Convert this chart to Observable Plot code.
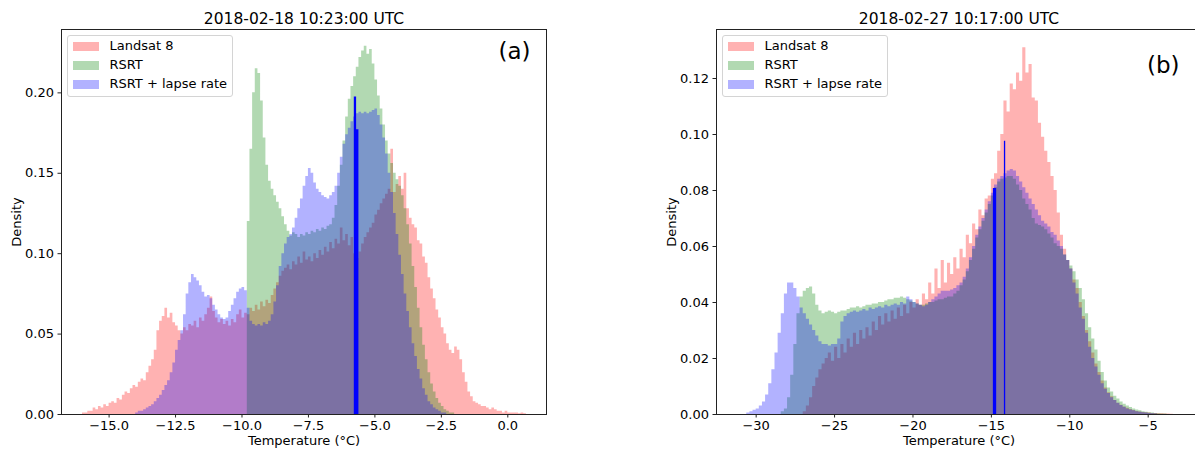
<!DOCTYPE html>
<html>
<head>
<meta charset="utf-8">
<script src="https://cdn.jsdelivr.net/npm/d3@7"></script>
<script src="https://cdn.jsdelivr.net/npm/@observablehq/plot@0.6"></script>
<style>
html, body { margin: 0; padding: 0; background: #fff; overflow: hidden; }
#root { position: relative; width: 1195px; height: 450px; overflow: hidden; font-family: "DejaVu Sans", sans-serif; }
.panel { position: absolute; top: 0; }
.legend { position: absolute; background: rgba(255,255,255,0.8); border: 1px solid #d4d4d4; border-radius: 3px; box-sizing: border-box; }
.sw { position: absolute; width: 25.6px; height: 8.6px; }
.lab { position: absolute; font-size: 13px; line-height: 16px; color: #000; white-space: nowrap; }
</style>
</head>
<body>
<div id="root"></div>
<script>
// ---------------- data ----------------
const seriesNames = ["Landsat 8", "RSRT", "RSRT + lapse rate"];
const seriesColors = ["rgba(255,0,0,0.3)", "rgba(0,128,0,0.3)", "rgba(0,0,255,0.3)"];
const baseColors = ["red", "green", "blue"];

const titleA = "2018-02-18 10:23:00 UTC";
const titleB = "2018-02-27 10:17:00 UTC";
const panelLabelA = "(a)";
const panelLabelB = "(b)";
const xLabel = "Temperature (°C)";
const yLabel = "Density";

// Panel (a): bin width 0.1 °C
const binWidthA = 0.1;
const landsatStartA = -16.0;
const landsatA = [
  0.001,0.001,0.002,0.002,0.004,0.003,0.005,0.004,0.006,0.005,
  0.007,0.008,0.007,0.010,0.009,0.012,0.014,0.013,0.016,0.018,
  0.017,0.020,0.022,0.021,0.026,0.030,0.034,0.040,0.052,0.058,
  0.061,0.066,0.060,0.063,0.057,0.055,0.052,0.050,0.054,0.052,
  0.056,0.055,0.058,0.054,0.060,0.058,0.062,0.066,0.073,0.064,
  0.060,0.057,0.059,0.056,0.058,0.055,0.059,0.057,0.062,0.065,
  0.060,0.063,0.062,0.066,0.064,0.068,0.065,0.070,0.067,0.071,
  0.069,0.074,0.078,0.082,0.086,0.089,0.091,0.093,0.090,0.095,
  0.093,0.098,0.094,0.101,0.096,0.098,0.095,0.100,0.097,0.102,
  0.099,0.104,0.101,0.107,0.103,0.109,0.106,0.116,0.108,0.112,
  0.105,0.110,0.100,0.097,0.101,0.106,0.110,0.113,0.116,0.119,
  0.124,0.127,0.131,0.134,0.137,0.140,0.165,0.138,0.143,0.148,
  0.140,0.150,0.128,0.122,0.118,0.116,0.108,0.106,0.098,0.094,
  0.085,0.078,0.072,0.065,0.060,0.054,0.050,0.044,0.040,0.038,
  0.042,0.040,0.034,0.026,0.020,0.014,0.011,0.008,0.007,0.006,
  0.005,0.005,0.004,0.003,0.004,0.003,0.002,0.002,0.001,0.002,
  0.001,0.001,0.001,0.001,0.0005,0.001,0.0005
];
const rsrtStartA = -9.8;
const rsrtA = [
  0.120,0.165,0.200,0.215,0.212,0.195,0.172,0.155,0.145,0.140,
  0.136,0.132,0.128,0.123,0.118,0.114,0.111,0.113,0.112,0.110,
  0.112,0.111,0.113,0.112,0.114,0.113,0.115,0.114,0.116,0.115,
  0.117,0.118,0.122,0.130,0.142,0.155,0.170,0.185,0.196,0.204,
  0.210,0.216,0.222,0.226,0.229,0.224,0.227,0.218,0.208,0.198,
  0.190,0.180,0.170,0.162,0.156,0.150,0.146,0.142,0.136,0.128,
  0.118,0.106,0.092,0.079,0.066,0.054,0.043,0.034,0.026,0.019,
  0.014,0.010,0.007,0.005,0.003,0.002,0.001,0.001
];
const lapseStartA = -14.0;
const lapseA = [
  0.001,0.002,0.002,0.003,0.004,0.005,0.006,0.008,0.010,0.012,
  0.015,0.018,0.021,0.026,0.032,0.040,0.046,0.052,0.062,0.075,
  0.082,0.087,0.085,0.083,0.080,0.076,0.073,0.074,0.072,0.068,
  0.065,0.062,0.060,0.059,0.060,0.064,0.068,0.072,0.076,0.078,
  0.079,0.077,0.066,0.058,0.056,0.055,0.056,0.055,0.057,0.056,
  0.058,0.062,0.070,0.080,0.092,0.100,0.106,0.110,0.112,0.116,
  0.122,0.128,0.134,0.142,0.148,0.153,0.150,0.144,0.140,0.138,
  0.136,0.135,0.134,0.136,0.138,0.142,0.150,0.160,0.168,0.174,
  0.178,0.182,0.185,0.187,0.188,0.187,0.188,0.187,0.188,0.189,
  0.190,0.186,0.180,0.172,0.162,0.150,0.138,0.125,0.112,0.099,
  0.087,0.075,0.064,0.054,0.044,0.036,0.028,0.022,0.016,0.012,
  0.008,0.006,0.004,0.003,0.002,0.001,0.001
];
const meanLinesA = [ { x: -5.75, h: 0.1975 }, { x: -5.665, h: 0.177 } ];
const xTicksA = [-15, -12.5, -10, -7.5, -5, -2.5, 0];
const yTicksA = [0, 0.05, 0.10, 0.15, 0.20];
const xDomainA = [-16.79, 1.456];
const yDomainA = [0, 0.2394];

// Panel (b): bin width 0.2 °C
const binWidthB = 0.2;
const landsatStartB = -27.0;
const landsatB = [
  0.001,0.003,0.006,0.010,0.013,0.016,0.018,0.020,0.022,0.019,
  0.024,0.020,0.025,0.022,0.027,0.024,0.029,0.025,0.030,0.027,
  0.031,0.028,0.033,0.030,0.035,0.032,0.036,0.033,0.037,0.034,
  0.038,0.035,0.039,0.036,0.040,0.038,0.041,0.039,0.043,0.041,
  0.047,0.043,0.052,0.045,0.055,0.047,0.054,0.050,0.056,0.052,
  0.059,0.056,0.064,0.061,0.068,0.066,0.073,0.071,0.077,0.078,
  0.084,0.086,0.094,0.100,0.112,0.108,0.118,0.116,0.122,0.119,
  0.131,0.122,0.125,0.113,0.112,0.104,0.099,0.094,0.090,0.085,
  0.080,0.072,0.064,0.059,0.055,0.052,0.048,0.045,0.040,0.035,
  0.030,0.026,0.022,0.018,0.015,0.012,0.0095,0.0078,0.0063,0.005,
  0.004,0.0033,0.0027,0.0022,0.0018,0.0014,0.0011,0.0009,0.0007,0.0006,
  0.0005,0.0004,0.0004,0.0003,0.0003,0.0002,0.0002,0.0001
];
const rsrtStartB = -28.4;
const rsrtB = [
  0.001,0.002,0.006,0.014,0.025,0.036,0.042,0.044,0.045,0.0455,
  0.043,0.039,0.037,0.036,0.0365,0.037,0.0365,0.036,0.0365,0.037,
  0.037,0.0375,0.038,0.038,0.0385,0.038,0.0385,0.039,0.039,0.0395,
  0.0395,0.040,0.040,0.0405,0.041,0.041,0.0415,0.0415,0.042,0.0415,
  0.041,0.0405,0.040,0.0395,0.039,0.039,0.0395,0.040,0.040,0.0405,
  0.041,0.041,0.0415,0.042,0.042,0.043,0.044,0.046,0.048,0.051,
  0.055,0.059,0.063,0.066,0.069,0.072,0.075,0.078,0.081,0.083,
  0.084,0.0845,0.085,0.085,0.084,0.082,0.080,0.077,0.075,0.073,
  0.070,0.068,0.0675,0.067,0.066,0.0645,0.063,0.061,0.060,0.059,
  0.057,0.055,0.053,0.051,0.048,0.045,0.041,0.036,0.031,0.027,
  0.023,0.019,0.015,0.012,0.0095,0.008,0.0065,0.0055,0.0045,0.0037,
  0.003,0.0025,0.002,0.0016,0.0013,0.001,0.0008,0.0006,0.0005,0.0004,
  0.0003,0.0002,0.0002
];
const lapseStartB = -30.6;
const lapseB = [
  0.0005,0.001,0.0015,0.002,0.003,0.0045,0.007,0.011,0.016,0.022,
  0.029,0.036,0.043,0.047,0.047,0.045,0.042,0.038,0.036,0.034,
  0.032,0.030,0.028,0.026,0.025,0.025,0.0245,0.025,0.025,0.027,
  0.033,0.035,0.036,0.0365,0.037,0.0365,0.037,0.0375,0.037,0.038,
  0.0375,0.038,0.0385,0.038,0.039,0.0385,0.039,0.0395,0.039,0.040,
  0.0395,0.042,0.041,0.040,0.0395,0.039,0.0385,0.039,0.040,0.041,
  0.042,0.043,0.044,0.044,0.044,0.0445,0.045,0.046,0.047,0.049,
  0.052,0.056,0.060,0.064,0.067,0.070,0.073,0.076,0.079,0.082,
  0.084,0.085,0.086,0.087,0.0875,0.087,0.085,0.083,0.081,0.079,
  0.077,0.075,0.073,0.071,0.069,0.068,0.067,0.065,0.064,0.062,
  0.060,0.057,0.055,0.052,0.047,0.043,0.038,0.034,0.029,0.024,
  0.020,0.017,0.014,0.011,0.009,0.0075,0.006,0.005,0.004,0.0032,
  0.0026,0.002,0.0016,0.0013,0.001,0.0008,0.0006,0.0005,0.0004,0.0003,
  0.0002
];
const meanLinesB = [ { x: -14.80, h: 0.0807 }, { x: -14.16, h: 0.0976 } ];
const xTicksB = [-30, -25, -20, -15, -10, -5];
const yTicksB = [0, 0.02, 0.04, 0.06, 0.08, 0.10, 0.12];
const xDomainB = [-32.53, -1.60];
const yDomainB = [0, 0.1375];

// ---------------- helpers ----------------
function steps(start, width, values) {
  const pts = values.map((v, i) => ({ x: start + i * width, y: v }));
  pts.push({ x: start + values.length * width, y: 0 });
  return pts;
}

function panel(cfg) {
  const marks = [];
  cfg.series.forEach((s, i) => {
    marks.push(Plot.areaY(steps(s.start, cfg.binWidth, s.values), {
      x: "x", y: "y", curve: "step-after", fill: baseColors[i], fillOpacity: 0.3
    }));
  });
  marks.push(Plot.ruleX([cfg.lines[0]], { x: "x", y1: 0, y2: "h", stroke: "blue", strokeWidth: cfg.lineWidths[0] }));
  marks.push(Plot.ruleX([cfg.lines[1]], { x: "x", y1: 0, y2: "h", stroke: "blue", strokeWidth: cfg.lineWidths[1] }));
  marks.push(Plot.frame({ stroke: "#222", strokeWidth: 1 }));
  marks.push(Plot.axisX({ ticks: cfg.xTicks, tickFormat: cfg.xFormat, tickSize: 3.5, tickPadding: 3, label: null, stroke: "#222", fontSize: 13 }));
  marks.push(Plot.axisY({ ticks: cfg.yTicks, tickFormat: ".2f", tickSize: 3.5, tickPadding: 4, label: null, stroke: "#222", fontSize: 13 }));
  marks.push(Plot.text([cfg.title], { frameAnchor: "top", textAnchor: "middle", lineAnchor: "middle", dy: -10.5, fontSize: 15.5, fill: "black" }));
  marks.push(Plot.text([xLabel], { frameAnchor: "bottom", textAnchor: "middle", lineAnchor: "top", dy: 21, fontSize: 13, fill: "black" }));
  marks.push(Plot.text([yLabel], { frameAnchor: "left", textAnchor: "middle", lineAnchor: "middle", rotate: -90, dx: -45, fontSize: 13, fill: "black" }));
  marks.push(Plot.text([cfg.letter], { frameAnchor: "top-right", textAnchor: "end", lineAnchor: "top", dx: cfg.letterDx, dy: cfg.letterDy, fontSize: 23, fill: "black" }));
  return Plot.plot({
    width: 560, height: 450,
    marginLeft: 61, marginRight: 14, marginTop: 29, marginBottom: 36,
    x: { domain: cfg.xDomain },
    y: { domain: cfg.yDomain },
    style: { fontFamily: "DejaVu Sans", fontSize: "13px", color: "black", background: "transparent", overflow: "visible" },
    marks
  });
}

function legend(left, top) {
  const box = document.createElement("div");
  box.className = "legend";
  box.style.left = left + "px";
  box.style.top = top + "px";
  box.style.width = "166px";
  box.style.height = "62px";
  seriesNames.forEach((name, i) => {
    const cy = 10.6 + 18.9 * i;
    const sw = document.createElement("div");
    sw.className = "sw";
    sw.style.left = "5px";
    sw.style.top = (cy - 4.3) + "px";
    sw.style.background = seriesColors[i];
    box.appendChild(sw);
    const lab = document.createElement("div");
    lab.className = "lab";
    lab.style.left = "41.5px";
    lab.style.top = (cy - 8.5) + "px";
    lab.textContent = name;
    box.appendChild(lab);
  });
  return box;
}

const root = document.getElementById("root");

const plotA = panel({
  binWidth: binWidthA,
  series: [
    { start: landsatStartA, values: landsatA },
    { start: rsrtStartA, values: rsrtA },
    { start: lapseStartA, values: lapseA }
  ],
  lines: meanLinesA, lineWidths: [2.3, 2.4],
  xTicks: xTicksA, yTicks: yTicksA, xFormat: ".1f",
  xDomain: xDomainA, yDomain: yDomainA,
  title: titleA, letter: panelLabelA, letterDx: -16, letterDy: 13
});
plotA.classList.add("panel");
plotA.style.left = "0px";
root.appendChild(plotA);

const plotB = panel({
  binWidth: binWidthB,
  series: [
    { start: landsatStartB, values: landsatB },
    { start: rsrtStartB, values: rsrtB },
    { start: lapseStartB, values: lapseB }
  ],
  lines: meanLinesB, lineWidths: [3.3, 1.3],
  xTicks: xTicksB, yTicks: yTicksB, xFormat: "d",
  xDomain: xDomainB, yDomain: yDomainB,
  title: titleB, letter: panelLabelB, letterDx: -22, letterDy: 27
});
plotB.classList.add("panel");
plotB.style.left = "655px";
root.appendChild(plotB);

root.appendChild(legend(67, 35));
root.appendChild(legend(722, 35));
</script>
</body>
</html>
